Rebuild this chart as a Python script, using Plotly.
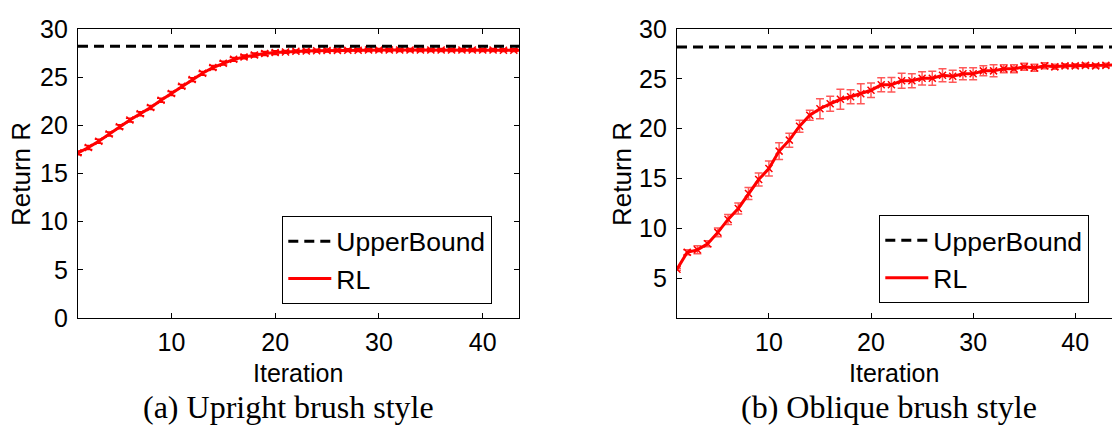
import plotly.graph_objects as go

# ---------------- data ----------------
iterations = list(range(1, 45))

upper_bound_left = 28.2
upper_bound_right = 28.2

rl_left = [17.15, 17.7, 18.35, 19.1, 19.85, 20.55, 21.2, 21.85, 22.6, 23.3,
           24.05, 24.75, 25.4, 26.0, 26.45, 26.85, 27.1, 27.3, 27.45, 27.55,
           27.62, 27.68, 27.72, 27.75, 27.77, 27.78, 27.8, 27.8, 27.81, 27.82,
           27.82, 27.82, 27.82, 27.82, 27.82, 27.82, 27.82, 27.82, 27.82, 27.82,
           27.82, 27.8, 27.8, 27.8]
err_left = [0.2, 0.2, 0.2, 0.2, 0.2, 0.2, 0.2, 0.2, 0.2, 0.2,
            0.2, 0.2, 0.2, 0.2, 0.2, 0.2, 0.2, 0.2, 0.2, 0.2,
            0.15, 0.15, 0.15, 0.15, 0.15, 0.15, 0.15, 0.15, 0.15, 0.15,
            0.15, 0.15, 0.15, 0.15, 0.15, 0.15, 0.15, 0.15, 0.15, 0.15,
            0.15, 0.15, 0.15, 0.15]

rl_right = [5.9, 7.6, 7.85, 8.45, 9.6, 10.9, 12.0, 13.5, 14.9, 16.0,
            17.75, 18.85, 20.25, 21.35, 22.0, 22.5, 22.95, 23.2, 23.5, 23.85,
            24.4, 24.4, 24.8, 24.8, 25.05, 25.05, 25.35, 25.25, 25.5, 25.5,
            25.8, 25.8, 26.0, 26.0, 26.2, 26.1, 26.3, 26.2, 26.3, 26.3,
            26.35, 26.3, 26.35, 26.4]
err_right = [0.1, 0.25, 0.4, 0.3, 0.45, 0.5, 0.55, 0.6, 0.65, 0.75,
             0.85, 0.7, 0.6, 0.5, 1.0, 0.75, 1.0, 0.7, 1.0, 0.72,
             0.7, 0.73, 0.75, 0.7, 0.67, 0.7, 0.65, 0.6, 0.6, 0.6,
             0.5, 0.6, 0.4, 0.4, 0.35, 0.35, 0.3, 0.25, 0.2, 0.2,
             0.2, 0.2, 0.2, 0.2]

x_ticks = [10, 20, 30, 40]
y_ticks_left = [0, 5, 10, 15, 20, 25, 30]
y_ticks_right = [5, 10, 15, 20, 25, 30]

series_names = ["UpperBound", "RL"]
axis_x_title = "Iteration"
axis_y_title = "Return R"
captions = ["(a) Upright brush style", "(b) Oblique brush style"]

# ---------------- figure ----------------
W, H = 1112, 436
FONT = "Liberation Sans, Arial, sans-serif"
RED = "#ff0000"
FS_TICK = 25
FS = 26

fig = go.Figure()

def add_panel(xref, yref, legend, rl, err, ub, err_color):
    # error bars + x markers
    fig.add_trace(go.Scatter(
        x=iterations, y=rl, mode="markers", xaxis=xref, yaxis=yref,
        marker=dict(symbol="x-thin", size=7, line=dict(color=RED, width=1.5), color=RED),
        error_y=dict(type="data", array=err, visible=True, color=err_color,
                     thickness=1.5, width=4),
        showlegend=False, hoverinfo="skip"))
    # upper bound
    fig.add_trace(go.Scatter(
        x=[iterations[0], iterations[-1]], y=[ub, ub], mode="lines",
        xaxis=xref, yaxis=yref, legend=legend, name=series_names[0],
        line=dict(color="black", width=3, dash="10px,6px")))
    # RL line
    fig.add_trace(go.Scatter(
        x=iterations, y=rl, mode="lines", xaxis=xref, yaxis=yref,
        legend=legend, name=series_names[1],
        line=dict(color=RED, width=3)))

add_panel("x", "y", "legend", rl_left, err_left, upper_bound_left, RED)
add_panel("x2", "y2", "legend2", rl_right, err_right, upper_bound_right,
          "rgba(255,0,0,0.65)")

axis_common = dict(
    showline=True, linecolor="black", linewidth=1.3,
    ticks="inside", ticklen=5, tickwidth=1, tickcolor="black",
    showgrid=False, zeroline=False,
    tickfont=dict(family=FONT, size=FS_TICK, color="black"),
)

y0 = 1 - 325 / H
y1 = 1 - 16 / H

legend_common = dict(xanchor="left", yanchor="top",
                     bgcolor="white", bordercolor="black", borderwidth=1.3,
                     font=dict(family=FONT, size=26.5, color="black"),
                     itemwidth=43, tracegroupgap=0)

fig.update_layout(
    width=W, height=H,
    margin=dict(l=0, r=0, t=0, b=0),
    paper_bgcolor="white", plot_bgcolor="white",
    font=dict(family=FONT, color="black"),
    xaxis=dict(domain=[78 / W, 519 / W], range=[1, 43.5], tickvals=x_ticks,
               mirror="ticks", anchor="y", ticklabelstandoff=2, **axis_common),
    yaxis=dict(domain=[y0, y1], range=[0, 30], tickvals=y_ticks_left,
               mirror="ticks", anchor="x", ticklabelstandoff=4, **axis_common),
    xaxis2=dict(domain=[677 / W, 1.0], range=[1, 43.6], tickvals=x_ticks,
                mirror="ticks", anchor="y2", ticklabelstandoff=2, **axis_common),
    yaxis2=dict(domain=[y0, y1], range=[1, 30], tickvals=y_ticks_right,
                mirror=False, anchor="x2", ticklabelstandoff=4, **axis_common),
    legend=dict(x=282 / W, y=1 - 216 / H, **legend_common),
    legend2=dict(x=879 / W, y=1 - 215 / H, **legend_common),
)

annotations = [
    dict(text=axis_y_title, x=21 / W, y=1 - 171 / H, textangle=-90, size=FS),
    dict(text=axis_y_title, x=622 / W, y=1 - 171 / H, textangle=-90, size=FS),
    dict(text=axis_x_title, x=298 / W, y=1 - 384 / H, textangle=0, size=25),
    dict(text=axis_x_title, x=894 / W, y=1 - 384 / H, textangle=0, size=25),
]
for a in annotations:
    fs = a.pop("size")
    a.update(xref="paper", yref="paper", showarrow=False,
             xanchor="center", yanchor="middle",
             font=dict(family=FONT, size=fs, color="black"))
    fig.add_annotation(**a)

for txt, cx in zip(captions, [288, 889]):
    fig.add_annotation(text=txt, x=cx / W, y=1 - 420 / H, xref="paper", yref="paper",
                       showarrow=False, xanchor="center", yanchor="middle",
                       font=dict(family="Liberation Serif, Times New Roman, serif",
                                 size=32, color="black"))

fig.write_html("out.html")
